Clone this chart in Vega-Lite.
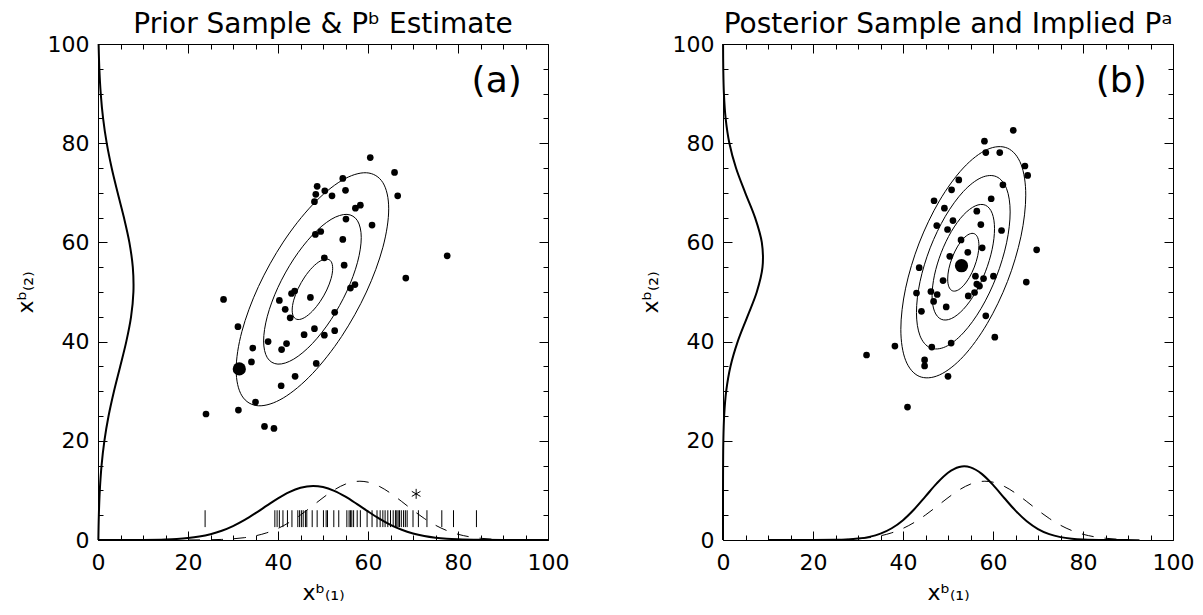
{
"$schema": "https://vega.github.io/schema/vega-lite/v6.json",
"padding": {"left": 13, "top": 10, "right": 5, "bottom": 5},
"bounds": "flush",
"spacing": 175,
"config": {
  "view": {"stroke": "black", "strokeWidth": 1},
  "font": "DejaVu Sans",
  "axis": {"grid": false, "domain": false, "tickColor": "black", "labelColor": "black", "titleColor": "black", "tickWidth": 1, "labelFontSize": 22, "titleFontSize": 22, "titleFontWeight": "normal", "labelFont": "DejaVu Sans", "titleFont": "DejaVu Sans", "labelFlush": false, "labelOverlap": false},
  "title": {"fontSize": 28, "fontWeight": "normal", "font": "DejaVu Sans", "anchor": "middle", "frame": "group", "baseline": "alphabetic", "offset": -6, "color": "black"}
},
"datasets": {
  "ptsA": [{"x":60.5,"y":77.1},{"x":65.9,"y":74.1},{"x":54.4,"y":72.9},{"x":48.7,"y":71.3},{"x":48.4,"y":69.7},{"x":50.4,"y":70.4},{"x":52.0,"y":69.4},{"x":55.0,"y":70.5},{"x":66.6,"y":69.4},{"x":48.1,"y":68.2},{"x":57.2,"y":66.9},{"x":58.3,"y":67.5},{"x":55.1,"y":64.7},{"x":60.9,"y":63.5},{"x":48.3,"y":61.6},{"x":49.5,"y":62.2},{"x":54.4,"y":60.6},{"x":77.6,"y":57.3},{"x":50.3,"y":56.9},{"x":54.7,"y":55.4},{"x":68.4,"y":52.8},{"x":56.1,"y":50.8},{"x":57.1,"y":51.5},{"x":43.7,"y":50.2},{"x":27.9,"y":48.5},{"x":43.0,"y":49.7},{"x":47.2,"y":48.9},{"x":40.3,"y":48.3},{"x":41.6,"y":46.5},{"x":42.7,"y":44.8},{"x":52.6,"y":45.9},{"x":31.1,"y":43.0},{"x":48.1,"y":42.6},{"x":45.8,"y":41.4},{"x":50.3,"y":41.3},{"x":52.6,"y":42.2},{"x":37.8,"y":40.0},{"x":41.9,"y":39.6},{"x":40.8,"y":38.4},{"x":34.4,"y":38.7},{"x":34.1,"y":35.9},{"x":48.5,"y":35.6},{"x":43.8,"y":33.0},{"x":40.7,"y":31.1},{"x":35.0,"y":27.8},{"x":31.2,"y":26.2},{"x":24.0,"y":25.4},{"x":37.0,"y":22.9},{"x":39.1,"y":22.5}],
  "bigA": [{"x":31.4,"y":34.5}],
  "ptsB": [{"x":64.5,"y":82.6},{"x":58.1,"y":80.4},{"x":58.4,"y":78.1},{"x":61.5,"y":78.1},{"x":67.1,"y":75.4},{"x":67.7,"y":73.5},{"x":52.4,"y":72.6},{"x":62.2,"y":71.6},{"x":50.8,"y":70.6},{"x":46.9,"y":68.4},{"x":59.6,"y":68.8},{"x":49.2,"y":66.9},{"x":56.4,"y":66.3},{"x":51.1,"y":64.4},{"x":47.5,"y":63.4},{"x":57.3,"y":63.6},{"x":49.9,"y":62.6},{"x":61.9,"y":62.4},{"x":52.9,"y":60.5},{"x":54.4,"y":58.0},{"x":57.6,"y":58.9},{"x":69.7,"y":58.5},{"x":50.4,"y":57.2},{"x":43.6,"y":54.9},{"x":56.1,"y":53.2},{"x":57.9,"y":52.7},{"x":60.1,"y":53.2},{"x":48.9,"y":52.3},{"x":56.4,"y":51.6},{"x":57.0,"y":51.2},{"x":67.4,"y":52.0},{"x":43.0,"y":49.8},{"x":46.2,"y":50.1},{"x":47.6,"y":49.5},{"x":55.9,"y":49.9},{"x":54.5,"y":49.2},{"x":46.8,"y":48.1},{"x":49.6,"y":47.0},{"x":44.1,"y":46.1},{"x":58.4,"y":45.2},{"x":60.4,"y":40.9},{"x":38.2,"y":39.1},{"x":46.4,"y":38.9},{"x":50.7,"y":39.7},{"x":31.9,"y":37.3},{"x":44.8,"y":36.3},{"x":44.8,"y":35.1},{"x":50.0,"y":33.0},{"x":41.0,"y":26.8}],
  "bigB": [{"x":53.0,"y":55.3}],
  "ellA": [
    {"r":3,"i":0,"x":64.60,"y":66.77},{"r":3,"i":1,"x":63.31,"y":72.04},{"r":3,"i":2,"x":59.64,"y":74.04},{"r":3,"i":3,"x":54.14,"y":72.47},{"r":3,"i":4,"x":47.65,"y":67.56},{"r":3,"i":5,"x":41.16,"y":60.06},{"r":3,"i":6,"x":35.66,"y":51.11},{"r":3,"i":7,"x":31.99,"y":42.08},{"r":3,"i":8,"x":30.70,"y":34.33},{"r":3,"i":9,"x":31.99,"y":29.06},{"r":3,"i":10,"x":35.66,"y":27.06},{"r":3,"i":11,"x":41.16,"y":28.63},{"r":3,"i":12,"x":47.65,"y":33.54},{"r":3,"i":13,"x":54.14,"y":41.04},{"r":3,"i":14,"x":59.64,"y":49.99},{"r":3,"i":15,"x":63.31,"y":59.02},
    {"r":2,"i":0,"x":58.50,"y":60.97},{"r":2,"i":1,"x":57.67,"y":64.36},{"r":2,"i":2,"x":55.32,"y":65.65},{"r":2,"i":3,"x":51.80,"y":64.64},{"r":2,"i":4,"x":47.65,"y":61.48},{"r":2,"i":5,"x":43.50,"y":56.66},{"r":2,"i":6,"x":39.98,"y":50.91},{"r":2,"i":7,"x":37.63,"y":45.11},{"r":2,"i":8,"x":36.80,"y":40.13},{"r":2,"i":9,"x":37.63,"y":36.74},{"r":2,"i":10,"x":39.98,"y":35.46},{"r":2,"i":11,"x":43.50,"y":36.47},{"r":2,"i":12,"x":47.65,"y":39.62},{"r":2,"i":13,"x":51.80,"y":44.44},{"r":2,"i":14,"x":55.32,"y":50.19},{"r":2,"i":15,"x":57.67,"y":55.99},
    {"r":1,"i":0,"x":52.15,"y":54.76},{"r":1,"i":1,"x":51.81,"y":56.13},{"r":1,"i":2,"x":50.83,"y":56.65},{"r":1,"i":3,"x":49.37,"y":56.24},{"r":1,"i":4,"x":47.65,"y":54.97},{"r":1,"i":5,"x":45.93,"y":53.02},{"r":1,"i":6,"x":44.47,"y":50.70},{"r":1,"i":7,"x":43.49,"y":48.35},{"r":1,"i":8,"x":43.15,"y":46.34},{"r":1,"i":9,"x":43.49,"y":44.97},{"r":1,"i":10,"x":44.47,"y":44.45},{"r":1,"i":11,"x":45.93,"y":44.86},{"r":1,"i":12,"x":47.65,"y":46.14},{"r":1,"i":13,"x":49.37,"y":48.08},{"r":1,"i":14,"x":50.83,"y":50.40},{"r":1,"i":15,"x":51.81,"y":52.75}
  ],
  "ellB": [
    {"r":4,"i":0,"x":67.28,"y":69.53},{"r":4,"i":1,"x":66.22,"y":75.77},{"r":4,"i":2,"x":63.22,"y":79.00},{"r":4,"i":3,"x":58.71,"y":78.73},{"r":4,"i":4,"x":53.40,"y":75.00},{"r":4,"i":5,"x":48.09,"y":68.37},{"r":4,"i":6,"x":43.59,"y":59.87},{"r":4,"i":7,"x":40.58,"y":50.77},{"r":4,"i":8,"x":39.52,"y":42.47},{"r":4,"i":9,"x":40.58,"y":36.23},{"r":4,"i":10,"x":43.59,"y":33.00},{"r":4,"i":11,"x":48.09,"y":33.27},{"r":4,"i":12,"x":53.40,"y":37.00},{"r":4,"i":13,"x":58.71,"y":43.63},{"r":4,"i":14,"x":63.22,"y":52.13},{"r":4,"i":15,"x":66.22,"y":61.23},
    {"r":3,"i":0,"x":63.81,"y":66.14},{"r":3,"i":1,"x":63.02,"y":70.82},{"r":3,"i":2,"x":60.76,"y":73.25},{"r":3,"i":3,"x":57.38,"y":73.05},{"r":3,"i":4,"x":53.40,"y":70.25},{"r":3,"i":5,"x":49.42,"y":65.28},{"r":3,"i":6,"x":46.04,"y":58.90},{"r":3,"i":7,"x":43.78,"y":52.08},{"r":3,"i":8,"x":42.99,"y":45.86},{"r":3,"i":9,"x":43.78,"y":41.18},{"r":3,"i":10,"x":46.04,"y":38.75},{"r":3,"i":11,"x":49.42,"y":38.95},{"r":3,"i":12,"x":53.40,"y":41.75},{"r":3,"i":13,"x":57.38,"y":46.72},{"r":3,"i":14,"x":60.76,"y":53.10},{"r":3,"i":15,"x":63.02,"y":59.92},
    {"r":2,"i":0,"x":60.34,"y":62.76},{"r":2,"i":1,"x":59.81,"y":65.88},{"r":2,"i":2,"x":58.31,"y":67.50},{"r":2,"i":3,"x":56.06,"y":67.36},{"r":2,"i":4,"x":53.40,"y":65.50},{"r":2,"i":5,"x":50.74,"y":62.19},{"r":2,"i":6,"x":48.49,"y":57.93},{"r":2,"i":7,"x":46.99,"y":53.39},{"r":2,"i":8,"x":46.46,"y":49.24},{"r":2,"i":9,"x":46.99,"y":46.12},{"r":2,"i":10,"x":48.49,"y":44.50},{"r":2,"i":11,"x":50.74,"y":44.64},{"r":2,"i":12,"x":53.40,"y":46.50},{"r":2,"i":13,"x":56.06,"y":49.81},{"r":2,"i":14,"x":58.31,"y":54.07},{"r":2,"i":15,"x":59.81,"y":58.61},
    {"r":1,"i":0,"x":56.87,"y":59.38},{"r":1,"i":1,"x":56.61,"y":60.94},{"r":1,"i":2,"x":55.85,"y":61.75},{"r":1,"i":3,"x":54.73,"y":61.68},{"r":1,"i":4,"x":53.40,"y":60.75},{"r":1,"i":5,"x":52.07,"y":59.09},{"r":1,"i":6,"x":50.95,"y":56.97},{"r":1,"i":7,"x":50.19,"y":54.69},{"r":1,"i":8,"x":49.93,"y":52.62},{"r":1,"i":9,"x":50.19,"y":51.06},{"r":1,"i":10,"x":50.95,"y":50.25},{"r":1,"i":11,"x":52.07,"y":50.32},{"r":1,"i":12,"x":53.40,"y":51.25},{"r":1,"i":13,"x":54.73,"y":52.91},{"r":1,"i":14,"x":55.85,"y":55.03},{"r":1,"i":15,"x":56.61,"y":57.31}
  ],
  "botA": [{"x":0,"y":0},{"x":5,"y":0.004},{"x":10,"y":0.024},{"x":15,"y":0.108},{"x":17.5,"y":0.213},{"x":20,"y":0.397},{"x":22.5,"y":0.701},{"x":25,"y":1.174},{"x":27.5,"y":1.863},{"x":30,"y":2.803},{"x":32.5,"y":3.995},{"x":35,"y":5.402},{"x":37.5,"y":6.916},{"x":40,"y":8.397},{"x":42.5,"y":9.664},{"x":45,"y":10.54},{"x":47.8,"y":10.9},{"x":50,"y":10.68},{"x":52.5,"y":9.915},{"x":55,"y":8.728},{"x":57.5,"y":7.282},{"x":60,"y":5.758},{"x":62.5,"y":4.317},{"x":65,"y":3.067},{"x":67.5,"y":2.065},{"x":70,"y":1.318},{"x":72.5,"y":0.798},{"x":75,"y":0.457},{"x":77.5,"y":0.248},{"x":80,"y":0.128},{"x":85,"y":0.029},{"x":90,"y":0.005},{"x":100,"y":0}],
  "botB": [{"x":10,"y":0},{"x":20,"y":0.005},{"x":25,"y":0.045},{"x":27.5,"y":0.119},{"x":30,"y":0.287},{"x":32.5,"y":0.633},{"x":35,"y":1.279},{"x":37.5,"y":2.366},{"x":40,"y":4.003},{"x":42.5,"y":6.203},{"x":45,"y":8.793},{"x":47.5,"y":11.41},{"x":50,"y":13.55},{"x":52.5,"y":14.72},{"x":53.6,"y":14.85},{"x":55,"y":14.65},{"x":57.5,"y":13.33},{"x":60,"y":11.11},{"x":62.5,"y":8.47},{"x":65,"y":5.912},{"x":67.5,"y":3.776},{"x":70,"y":2.208},{"x":72.5,"y":1.182},{"x":75,"y":0.579},{"x":77.5,"y":0.26},{"x":80,"y":0.106},{"x":85,"y":0.014},{"x":90,"y":0}],
  "dash": [{"x":20,"y":0.009},{"x":25,"y":0.053},{"x":27.5,"y":0.117},{"x":30,"y":0.24},{"x":32.5,"y":0.465},{"x":35,"y":0.847},{"x":37.5,"y":1.45},{"x":40,"y":2.335},{"x":42.5,"y":3.541},{"x":45,"y":5.044},{"x":47.5,"y":6.761},{"x":50,"y":8.522},{"x":52.5,"y":10.106},{"x":55,"y":11.27},{"x":58.2,"y":11.85},{"x":60,"y":11.66},{"x":62.5,"y":10.82},{"x":65,"y":9.447},{"x":67.5,"y":7.755},{"x":70,"y":5.989},{"x":72.5,"y":4.349},{"x":75,"y":2.972},{"x":77.5,"y":1.909},{"x":80,"y":1.154},{"x":82.5,"y":0.656},{"x":85,"y":0.351},{"x":87.5,"y":0.176},{"x":90,"y":0.083},{"x":95,"y":0.015}],
  "leftA": [{"y":0,"x":0.08},{"y":5,"x":0.188},{"y":10,"x":0.401},{"y":15,"x":0.788},{"y":20,"x":1.419},{"y":25,"x":2.344},{"y":30,"x":3.55},{"y":35,"x":4.933},{"y":40,"x":6.284},{"y":45,"x":7.343},{"y":50,"x":7.869},{"y":55,"x":7.734},{"y":60,"x":6.972},{"y":65,"x":5.764},{"y":70,"x":4.37},{"y":75,"x":3.04},{"y":80,"x":1.939},{"y":85,"x":1.133},{"y":90,"x":0.608},{"y":95,"x":0.299},{"y":100,"x":0.135}],
  "leftB": [{"y":0,"x":0},{"y":5,"x":0},{"y":10,"x":0.004},{"y":15,"x":0.019},{"y":20,"x":0.077},{"y":25,"x":0.254},{"y":30,"x":0.708},{"y":35,"x":1.657},{"y":40,"x":3.264},{"y":45,"x":5.398},{"y":50,"x":7.509},{"y":55,"x":8.777},{"y":60,"x":8.626},{"y":65,"x":7.126},{"y":70,"x":4.948},{"y":75,"x":2.89},{"y":80,"x":1.418},{"y":85,"x":0.585},{"y":90,"x":0.203},{"y":95,"x":0.059},{"y":100,"x":0.015}],
  "rugA": [{"x":23.8},{"x":39.3},{"x":39.8},{"x":40.3},{"x":41.1},{"x":42.1},{"x":43.1},{"x":44.4},{"x":44.8},{"x":45.2},{"x":45.6},{"x":46.1},{"x":46.4},{"x":47.6},{"x":48.7},{"x":50.1},{"x":50.7},{"x":51.0},{"x":52.4},{"x":53.5},{"x":55.3},{"x":55.8},{"x":56.1},{"x":56.4},{"x":56.8},{"x":57.6},{"x":58.3},{"x":59.8},{"x":60.9},{"x":62.0},{"x":62.7},{"x":63.3},{"x":63.8},{"x":64.4},{"x":65.0},{"x":65.6},{"x":66.1},{"x":66.4},{"x":66.7},{"x":67.0},{"x":67.4},{"x":67.9},{"x":68.3},{"x":68.7},{"x":70.0},{"x":71.2},{"x":73.1},{"x":76.4},{"x":79.0},{"x":84.1}],
  "starA": [{"x":70.7,"y":9.3}],
  "labA": [{"x":88.6,"y":92.5,"t":"(a)"}],
  "labB": [{"x":88.5,"y":92.5,"t":"(b)"}]
},
"hconcat": [
 {
  "width": 450, "height": 496,
  "title": {"text": "Prior Sample & Pᵇ Estimate"},
  "resolve": {"axis": {"x": "independent", "y": "independent"}},
  "layer": [
   {"data": {"name": "ellA"}, "mark": {"type": "line", "interpolate": "cardinal-closed", "color": "black", "strokeWidth": 1},
    "encoding": {
     "x": {"field": "x", "type": "quantitative", "scale": {"domain": [0,100], "nice": false, "zero": false}, "axis": {"orient": "bottom", "values": [0,20,40,60,80,100], "offset": -9, "tickSize": 9, "labelPadding": 12, "title": "xᵇ₍₁₎", "titlePadding": 9}},
     "y": {"field": "y", "type": "quantitative", "scale": {"domain": [0,100], "nice": false, "zero": false}, "axis": {"orient": "left", "values": [0,20,40,60,80,100], "offset": -9, "tickSize": 9, "labelPadding": 9, "title": "xᵇ₍₂₎", "titlePadding": 10}},
     "detail": {"field": "r"}, "order": {"field": "i"}}},
   {"data": {"name": "ptsA"}, "mark": {"type": "point", "shape": "circle", "filled": true, "color": "black", "opacity": 1, "size": 45},
    "encoding": {
     "x": {"field": "x", "type": "quantitative", "scale": {"domain": [0,100], "nice": false, "zero": false}, "axis": {"orient": "bottom", "values": [5,10,15,25,30,35,45,50,55,65,70,75,85,90,95], "offset": -5, "tickSize": 5, "labels": false, "title": null}},
     "y": {"field": "y", "type": "quantitative", "scale": {"domain": [0,100], "nice": false, "zero": false}, "axis": {"orient": "left", "values": [5,10,15,25,30,35,45,50,55,65,70,75,85,90,95], "offset": -5, "tickSize": 5, "labels": false, "title": null}}}},
   {"data": {"name": "bigA"}, "mark": {"type": "point", "shape": "circle", "filled": true, "color": "black", "opacity": 1, "size": 175},
    "encoding": {
     "x": {"field": "x", "type": "quantitative", "scale": {"domain": [0,100], "nice": false, "zero": false}, "axis": {"orient": "top", "values": [0,20,40,60,80,100], "offset": -9, "tickSize": 9, "labels": false, "title": null}},
     "y": {"field": "y", "type": "quantitative", "scale": {"domain": [0,100], "nice": false, "zero": false}, "axis": {"orient": "right", "values": [0,20,40,60,80,100], "offset": -9, "tickSize": 9, "labels": false, "title": null}}}},
   {"data": {"name": "botA"}, "mark": {"type": "line", "interpolate": "monotone", "color": "black", "strokeWidth": 2},
    "encoding": {
     "x": {"field": "x", "type": "quantitative", "scale": {"domain": [0,100], "nice": false, "zero": false}, "axis": {"orient": "top", "values": [5,10,15,25,30,35,45,50,55,65,70,75,85,90,95], "offset": -5, "tickSize": 5, "labels": false, "title": null}},
     "y": {"field": "y", "type": "quantitative", "scale": {"domain": [0,100], "nice": false, "zero": false}, "axis": {"orient": "right", "values": [5,10,15,25,30,35,45,50,55,65,70,75,85,90,95], "offset": -5, "tickSize": 5, "labels": false, "title": null}}}},
   {"data": {"name": "dash"}, "mark": {"type": "line", "interpolate": "monotone", "color": "black", "strokeWidth": 1, "strokeDash": [12, 11]},
    "encoding": {
     "x": {"field": "x", "type": "quantitative", "scale": {"domain": [0,100], "nice": false, "zero": false}, "axis": null},
     "y": {"field": "y", "type": "quantitative", "scale": {"domain": [0,100], "nice": false, "zero": false}, "axis": null}}},
   {"data": {"name": "leftA"}, "mark": {"type": "line", "interpolate": "cardinal", "color": "black", "strokeWidth": 2},
    "encoding": {
     "x": {"field": "x", "type": "quantitative", "scale": {"domain": [0,100], "nice": false, "zero": false}, "axis": null},
     "y": {"field": "y", "type": "quantitative", "scale": {"domain": [0,100], "nice": false, "zero": false}, "axis": null},
     "order": {"field": "y"}}},
   {"data": {"name": "rugA"}, "mark": {"type": "rule", "color": "black", "strokeWidth": 1},
    "encoding": {
     "x": {"field": "x", "type": "quantitative", "scale": {"domain": [0,100], "nice": false, "zero": false}, "axis": null},
     "y": {"datum": 2.6, "type": "quantitative", "scale": {"domain": [0,100], "nice": false, "zero": false}, "axis": null},
     "y2": {"datum": 6.0}}},
   {"data": {"name": "starA"}, "mark": {"type": "point", "shape": "M0,-1L0,1M-0.866,-0.5L0.866,0.5M-0.866,0.5L0.866,-0.5", "filled": false, "color": "black", "strokeWidth": 1, "opacity": 1, "size": 100},
    "encoding": {
     "x": {"field": "x", "type": "quantitative", "scale": {"domain": [0,100], "nice": false, "zero": false}, "axis": null},
     "y": {"field": "y", "type": "quantitative", "scale": {"domain": [0,100], "nice": false, "zero": false}, "axis": null}}},
   {"data": {"name": "labA"}, "mark": {"type": "text", "fontSize": 36, "font": "DejaVu Sans", "align": "center", "baseline": "middle", "color": "black"},
    "encoding": {
     "x": {"field": "x", "type": "quantitative", "scale": {"domain": [0,100], "nice": false, "zero": false}, "axis": null},
     "y": {"field": "y", "type": "quantitative", "scale": {"domain": [0,100], "nice": false, "zero": false}, "axis": null},
     "text": {"field": "t"}}}
  ]
 },
 {
  "width": 450, "height": 496,
  "title": {"text": "Posterior Sample and Implied Pᵃ"},
  "resolve": {"axis": {"x": "independent", "y": "independent"}},
  "layer": [
   {"data": {"name": "ellB"}, "mark": {"type": "line", "interpolate": "cardinal-closed", "color": "black", "strokeWidth": 1},
    "encoding": {
     "x": {"field": "x", "type": "quantitative", "scale": {"domain": [0,100], "nice": false, "zero": false}, "axis": {"orient": "bottom", "values": [0,20,40,60,80,100], "offset": -9, "tickSize": 9, "labelPadding": 12, "title": "xᵇ₍₁₎", "titlePadding": 9}},
     "y": {"field": "y", "type": "quantitative", "scale": {"domain": [0,100], "nice": false, "zero": false}, "axis": {"orient": "left", "values": [0,20,40,60,80,100], "offset": -9, "tickSize": 9, "labelPadding": 9, "title": "xᵇ₍₂₎", "titlePadding": 10}},
     "detail": {"field": "r"}, "order": {"field": "i"}}},
   {"data": {"name": "ptsB"}, "mark": {"type": "point", "shape": "circle", "filled": true, "color": "black", "opacity": 1, "size": 45},
    "encoding": {
     "x": {"field": "x", "type": "quantitative", "scale": {"domain": [0,100], "nice": false, "zero": false}, "axis": {"orient": "bottom", "values": [5,10,15,25,30,35,45,50,55,65,70,75,85,90,95], "offset": -5, "tickSize": 5, "labels": false, "title": null}},
     "y": {"field": "y", "type": "quantitative", "scale": {"domain": [0,100], "nice": false, "zero": false}, "axis": {"orient": "left", "values": [5,10,15,25,30,35,45,50,55,65,70,75,85,90,95], "offset": -5, "tickSize": 5, "labels": false, "title": null}}}},
   {"data": {"name": "bigB"}, "mark": {"type": "point", "shape": "circle", "filled": true, "color": "black", "opacity": 1, "size": 175},
    "encoding": {
     "x": {"field": "x", "type": "quantitative", "scale": {"domain": [0,100], "nice": false, "zero": false}, "axis": {"orient": "top", "values": [0,20,40,60,80,100], "offset": -9, "tickSize": 9, "labels": false, "title": null}},
     "y": {"field": "y", "type": "quantitative", "scale": {"domain": [0,100], "nice": false, "zero": false}, "axis": {"orient": "right", "values": [0,20,40,60,80,100], "offset": -9, "tickSize": 9, "labels": false, "title": null}}}},
   {"data": {"name": "botB"}, "mark": {"type": "line", "interpolate": "monotone", "color": "black", "strokeWidth": 2},
    "encoding": {
     "x": {"field": "x", "type": "quantitative", "scale": {"domain": [0,100], "nice": false, "zero": false}, "axis": {"orient": "top", "values": [5,10,15,25,30,35,45,50,55,65,70,75,85,90,95], "offset": -5, "tickSize": 5, "labels": false, "title": null}},
     "y": {"field": "y", "type": "quantitative", "scale": {"domain": [0,100], "nice": false, "zero": false}, "axis": {"orient": "right", "values": [5,10,15,25,30,35,45,50,55,65,70,75,85,90,95], "offset": -5, "tickSize": 5, "labels": false, "title": null}}}},
   {"data": {"name": "dash"}, "mark": {"type": "line", "interpolate": "monotone", "color": "black", "strokeWidth": 1, "strokeDash": [12, 11]},
    "encoding": {
     "x": {"field": "x", "type": "quantitative", "scale": {"domain": [0,100], "nice": false, "zero": false}, "axis": null},
     "y": {"field": "y", "type": "quantitative", "scale": {"domain": [0,100], "nice": false, "zero": false}, "axis": null}}},
   {"data": {"name": "leftB"}, "mark": {"type": "line", "interpolate": "cardinal", "color": "black", "strokeWidth": 2},
    "encoding": {
     "x": {"field": "x", "type": "quantitative", "scale": {"domain": [0,100], "nice": false, "zero": false}, "axis": null},
     "y": {"field": "y", "type": "quantitative", "scale": {"domain": [0,100], "nice": false, "zero": false}, "axis": null},
     "order": {"field": "y"}}},
   {"data": {"name": "labB"}, "mark": {"type": "text", "fontSize": 36, "font": "DejaVu Sans", "align": "center", "baseline": "middle", "color": "black"},
    "encoding": {
     "x": {"field": "x", "type": "quantitative", "scale": {"domain": [0,100], "nice": false, "zero": false}, "axis": null},
     "y": {"field": "y", "type": "quantitative", "scale": {"domain": [0,100], "nice": false, "zero": false}, "axis": null},
     "text": {"field": "t"}}}
  ]
 }
]
}
